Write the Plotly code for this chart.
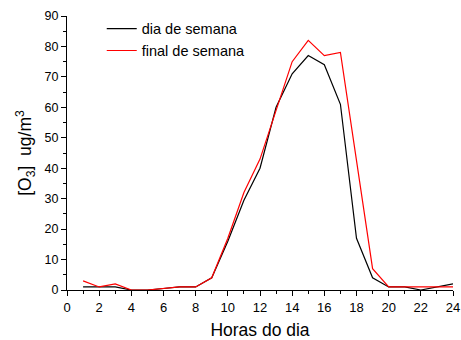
import plotly.graph_objects as go

hours = list(range(1, 25))
dia_semana = [1, 1, 1, 0, 0, 0.5, 1, 1, 4, 16, 29.5, 40, 60, 71, 77, 74, 61, 17, 4, 1, 1, 0, 1, 2]
final_semana = [3, 1, 2, 0, 0, 0.5, 1, 1, 4, 17, 32, 43, 59, 75, 82, 77, 78, 42.5, 7, 1, 1, 1, 1, 1]

x_ticks = list(range(0, 25, 2))
y_ticks = list(range(0, 91, 10))

fig = go.Figure()
fig.add_trace(go.Scatter(x=hours, y=dia_semana, mode="lines", name="dia de semana",
                         line=dict(color="black", width=1.2)))
fig.add_trace(go.Scatter(x=hours, y=final_semana, mode="lines", name="final de semana",
                         line=dict(color="#ff0000", width=1.2)))

font_family = "Liberation Sans, Arial, sans-serif"
fig.update_layout(
    width=461, height=340,
    margin=dict(l=67, r=8, t=16, b=50, autoexpand=False),
    plot_bgcolor="white", paper_bgcolor="white",
    font=dict(family=font_family, color="black", size=12),
    showlegend=True,
    legend=dict(x=0.09, y=1.012, xanchor="left", yanchor="top",
                bgcolor="rgba(0,0,0,0)", font=dict(size=14.5, family=font_family),
                tracegroupgap=0, itemwidth=30),
    xaxis=dict(range=[0, 24], tickmode="array", tickvals=x_ticks,
               ticktext=[str(v) for v in x_ticks], automargin=False,
               showline=True, linecolor="black", linewidth=1.2,
               ticks="outside", ticklen=5, tickcolor="black", tickwidth=1.2,
               minor=dict(ticks="outside", ticklen=3, dtick=1, tickcolor="black", tickwidth=1),
               showgrid=False, zeroline=False,
               tickfont=dict(size=13),
               title=dict(text="Horas do dia", font=dict(size=17.5), standoff=12)),
    yaxis=dict(range=[0, 90], tickmode="array", tickvals=y_ticks,
               ticktext=[str(v) for v in y_ticks], automargin=False,
               showline=True, linecolor="black", linewidth=1.2,
               ticks="outside", ticklen=5, tickcolor="black", tickwidth=1.2,
               minor=dict(ticks="outside", ticklen=3, dtick=5, tickcolor="black", tickwidth=1),
               showgrid=False, zeroline=False,
               tickfont=dict(size=12.5),
               title=dict(text="[O<sub>3</sub>]  ug/m<sup>3</sup>", font=dict(size=17.5), standoff=8)),
)

fig.write_html("out.html", config={"displayModeBar": False},
               post_script="document.body.style.margin='0';document.body.style.overflow='hidden';")
